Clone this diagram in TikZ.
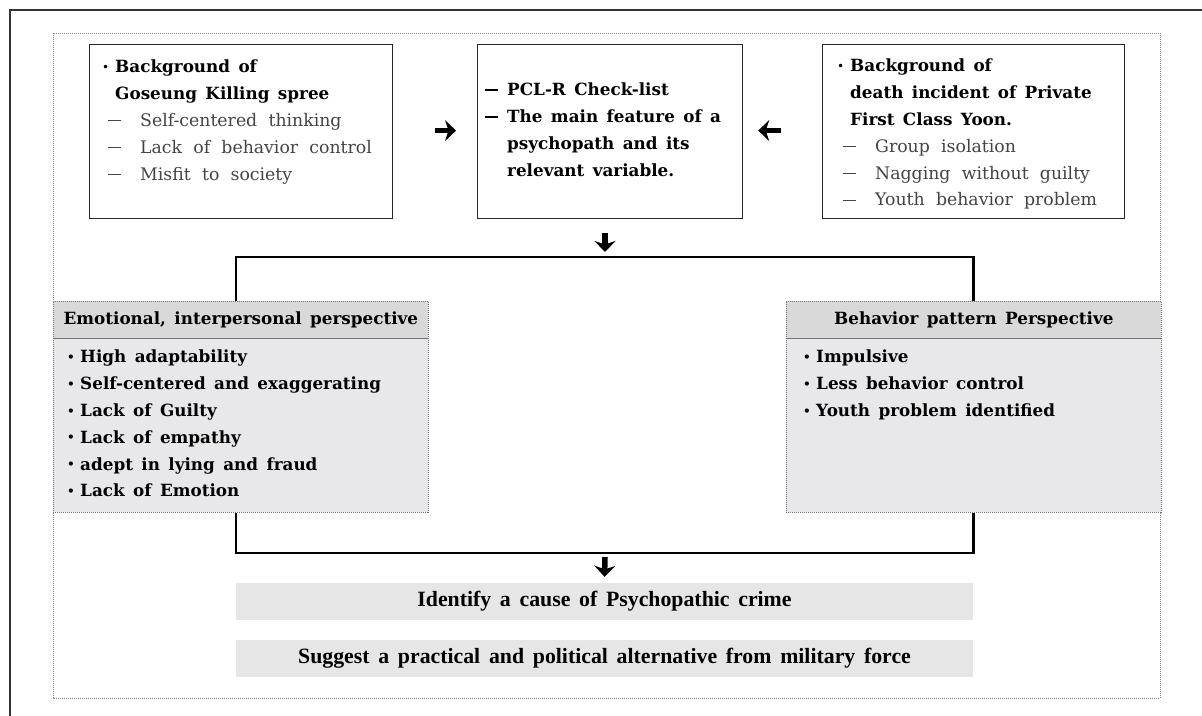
\documentclass[tikz,border=0pt]{standalone}
\usepackage{fontspec}
\setmainfont{DejaVu Serif}
\newfontfamily\condfont{Liberation Serif}
\usetikzlibrary{arrows.meta,calc}
\definecolor{headgray}{HTML}{D9D9D9}
\definecolor{bodygray}{HTML}{E8E8EA}
\definecolor{boxgray}{HTML}{E6E6E6}
\definecolor{subgray}{HTML}{444444}
\newcommand\bodyfnt{\fontsize{17.3}{26.8}\selectfont\spaceskip=0.65em plus 0.1em\relax}
\newcommand\boldfnt{\fontsize{16.8}{26.8}\selectfont\bfseries\spaceskip=0.5em plus 0.1em\relax}
\newcommand\headfnt{\fontsize{16.8}{18}\selectfont\bfseries\spaceskip=0.5em plus 0.1em\relax}
\newcommand\condfnt{\condfont\fontsize{21.8}{22}\selectfont\bfseries\spaceskip=0.4em plus 0.1em\relax}
\newcommand\bul{\makebox[13pt][l]{\fontsize{12}{12}\selectfont\raisebox{1.5pt}{•}}}
\newcommand\dsh{\rule[0.3em]{13pt}{1pt}}
\newcommand\bdsh{\rule[0.3em]{13pt}{1.6pt}}
\begin{document}
\begin{tikzpicture}[x=1pt,y=-1pt,
  outerframe/.style={draw=black!80, line width=1.3pt},
  dotframe/.style={draw=black!50, line width=0.9pt, dash pattern=on 1pt off 1pt},
  topbox/.style={draw=black!85, line width=1.2pt, fill=white, inner sep=0pt, anchor=north west},
  txt/.style={inner sep=0pt, anchor=north west, align=left, font=\bodyfnt},
  btxt/.style={inner sep=0pt, anchor=north west, align=left, font=\boldfnt},
  perhead/.style={draw=black!55, dash pattern=on 1pt off 1pt, line width=0.8pt, fill=headgray, inner sep=0pt, anchor=north west, font=\headfnt, minimum width=375pt, minimum height=37pt},
  perbody/.style={draw=black!55, dash pattern=on 1pt off 1pt, line width=0.8pt, fill=bodygray, inner sep=0pt, anchor=north west, minimum width=375pt, minimum height=174pt},
  graybox/.style={fill=boxgray, inner sep=0pt, font=\condfnt, minimum width=737pt, minimum height=37pt},
  bigarrow/.style={line width=5.5pt, -{Stealth[length=11pt,width=21pt,inset=3.5pt]}},
  bracket/.style={line width=2.6pt, line join=miter}
]
\useasboundingbox (0,0) rectangle (1202,715);
% frames
\draw[outerframe] (10,716) -- (10,10) -- (1203,10);
\draw[dotframe] (53,33) rectangle (1160,698);

% top boxes
\node[topbox, minimum width=303pt, minimum height=174pt] (b1) at (89,44) {};
\node[topbox, minimum width=265pt, minimum height=174pt] (b2) at (477,44) {};
\node[topbox, minimum width=302pt, minimum height=174pt] (b3) at (822,44) {};

\node[txt] (t1) at ($(b1.north west)+(13,16)$) {%
\bul{\boldfnt Background of}\\
\hspace*{13pt}{\boldfnt Goseung Killing spree}\\
\textcolor{subgray}{\hspace*{6pt}\dsh\hspace{19pt}Self-centered thinking}\\
\textcolor{subgray}{\hspace*{6pt}\dsh\hspace{19pt}Lack of behavior control}\\
\textcolor{subgray}{\hspace*{6pt}\dsh\hspace{19pt}Misfit to society}};

\node[btxt] (t2) at ($(b2.north west)+(8,39)$) {%
\bdsh\hspace{9pt}PCL-R Check-list\\
\bdsh\hspace{9pt}The main feature of a\\
\hspace*{22pt}psychopath and its\\
\hspace*{22pt}relevant variable.};

\node[txt] (t3) at ($(b3.north west)+(15,15)$) {%
\bul{\boldfnt Background of}\\
\hspace*{13pt}{\boldfnt death incident of Private}\\
\hspace*{13pt}{\boldfnt First Class Yoon.}\\
\textcolor{subgray}{\hspace*{6pt}\dsh\hspace{19pt}Group isolation}\\
\textcolor{subgray}{\hspace*{6pt}\dsh\hspace{19pt}Nagging without guilty}\\
\textcolor{subgray}{\hspace*{6pt}\dsh\hspace{19pt}Youth behavior problem}};

% arrows between top boxes
\draw[bigarrow] ($(b1.east)+(42,-1)$) -- ($(b2.west)+(-21,-1)$);
\draw[bigarrow] ($(b3.west)+(-41,-1)$) -- ($(b2.east)+(15,-1)$);

% perspective boxes
\node[perbody] (pl) at (53,338) {};
\node[perhead] (hl) at (53,301) {Emotional, interpersonal perspective};
\node[perbody] (pr) at (786,338) {};
\node[perhead] (hr) at (786,301) {Behavior pattern Perspective};

\node[btxt] (tl) at ($(pl.north west)+(14,12)$) {%
\bul High adaptability\\
\bul Self-centered and exaggerating\\
\bul Lack of Guilty\\
\bul Lack of empathy\\
\bul adept in lying and fraud\\
\bul Lack of Emotion};

\node[btxt] (tr) at ($(pr.north west)+(17,12)$) {%
\bul Impulsive\\
\bul Less behavior control\\
\bul Youth problem identified};

% bottom gray boxes
\node[graybox] (g1) at (604.5,601.5) {Identify a cause of Psychopathic crime};
\node[graybox] (g2) at (604.5,658.5) {Suggest a practical and political alternative from military force};

% connectors
\coordinate (topbar) at (605,257);
\coordinate (botbar) at (605,553);
\draw[bigarrow] ($(b2.south -| topbar)+(0,14)$) -- ($(topbar)+(0,-5)$);
\draw[bracket] (hl.north -| g1.west) |- (topbar) -| (hr.north -| g1.east);
\draw[bracket] (pl.south -| g1.west) |- (botbar) -| (pr.south -| g1.east);
\draw[bigarrow] ($(botbar)+(0,4)$) -- ($(g1.north)+(0,-6)$);
\end{tikzpicture}
\end{document}
